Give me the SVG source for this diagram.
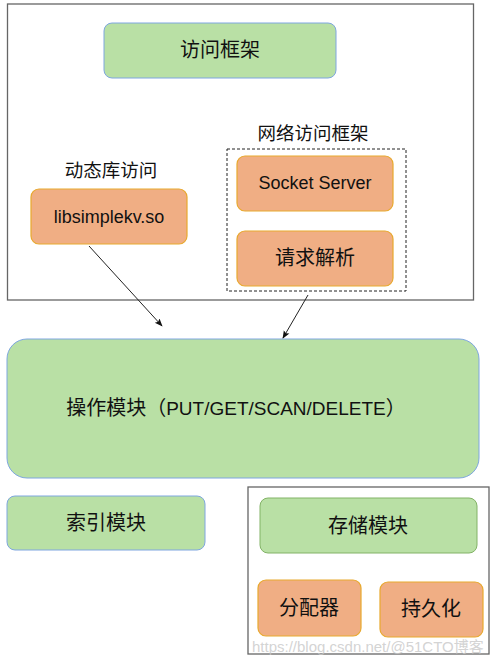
<svg xmlns="http://www.w3.org/2000/svg" width="502" height="665" viewBox="0 0 502 665">
<defs>
<style>
.frame{fill:#fff;stroke:#666;stroke-width:1.3}
.green{fill:#b9e0a5;stroke:#7ea6e0;stroke-width:1}
.green2{fill:#b9e0a5;stroke:#82b366;stroke-width:1}
.orange{fill:#f0ae84;stroke:#e8a92e;stroke-width:1.2}
.dash{fill:none;stroke:#222;stroke-width:1;stroke-dasharray:3 2}
text{font-family:"Liberation Sans","Noto Sans CJK SC",sans-serif;font-size:18px;fill:#111;text-anchor:middle;dominant-baseline:central}
.cjk{font-size:20px}
.lbl{font-size:18.5px}
.wm{font-size:15px;fill:#c8c8c8;fill-opacity:0.8;text-anchor:start}
.edge{stroke:#222;stroke-width:1;fill:none;marker-end:url(#arr)}
</style>
<marker id="arr" viewBox="0 0 10 10" refX="9" refY="5" markerWidth="8" markerHeight="8" orient="auto" markerUnits="userSpaceOnUse">
<path d="M0,1 L10,5 L0,9 L2,5 Z" fill="#111"/>
</marker>
</defs>
<rect width="502" height="665" fill="#fff"/>
<g id="access-frame">
<rect class="frame" x="7.5" y="4" width="466" height="296"/>
</g>
<g id="access-framework">
<rect class="green" x="104" y="23" width="232" height="55" rx="8"/>
<text class="cjk" x="220" y="50">访问框架</text>
</g>
<g id="dynlib">
<text class="lbl" x="111" y="170">动态库访问</text>
<rect class="orange" x="31" y="189" width="156" height="55" rx="8"/>
<text x="109" y="217">libsimplekv.so</text>
</g>
<g id="net-framework">
<text class="lbl" x="313" y="133">网络访问框架</text>
<rect class="dash" x="227" y="149" width="179" height="142"/>
</g>
<g id="socket-server">
<rect class="orange" x="237" y="156" width="156" height="55" rx="8"/>
<text x="315" y="183">Socket Server</text>
</g>
<g id="request-parse">
<rect class="orange" x="237" y="231" width="156" height="55" rx="8"/>
<text class="cjk" x="315" y="258">请求解析</text>
</g>
<g id="operation">
<rect class="green" x="7" y="339" width="472" height="139" rx="20"/>
<text x="236" y="408"><tspan font-size="20">操作模块（</tspan><tspan font-size="19">PUT/GET/SCAN/DELETE</tspan><tspan font-size="20">）</tspan></text>
</g>
<g id="index">
<rect class="green" x="7" y="496" width="198" height="54" rx="8"/>
<text class="cjk" x="106" y="523">索引模块</text>
</g>
<g id="storage-frame">
<rect class="frame" x="248" y="487" width="241" height="167"/>
</g>
<g id="storage">
<rect class="green2" x="260" y="498" width="217" height="55" rx="8"/>
<text class="cjk" x="368" y="526">存储模块</text>
</g>
<g id="allocator">
<rect class="orange" x="258" y="580" width="103" height="56" rx="8"/>
<text class="cjk" x="309" y="608">分配器</text>
</g>
<g id="persist">
<rect class="orange" x="380" y="582" width="103" height="55" rx="8"/>
<text class="cjk" x="431" y="609">持久化</text>
</g>
<g id="connectors">
<line class="edge" x1="89" y1="246" x2="162" y2="326"/>
<line class="edge" x1="308" y1="295" x2="283" y2="338"/>
</g>
<g id="watermark">
<text class="wm" x="252" y="646">https://blog.csdn.net/@51CTO博客</text>
</g>
</svg>
